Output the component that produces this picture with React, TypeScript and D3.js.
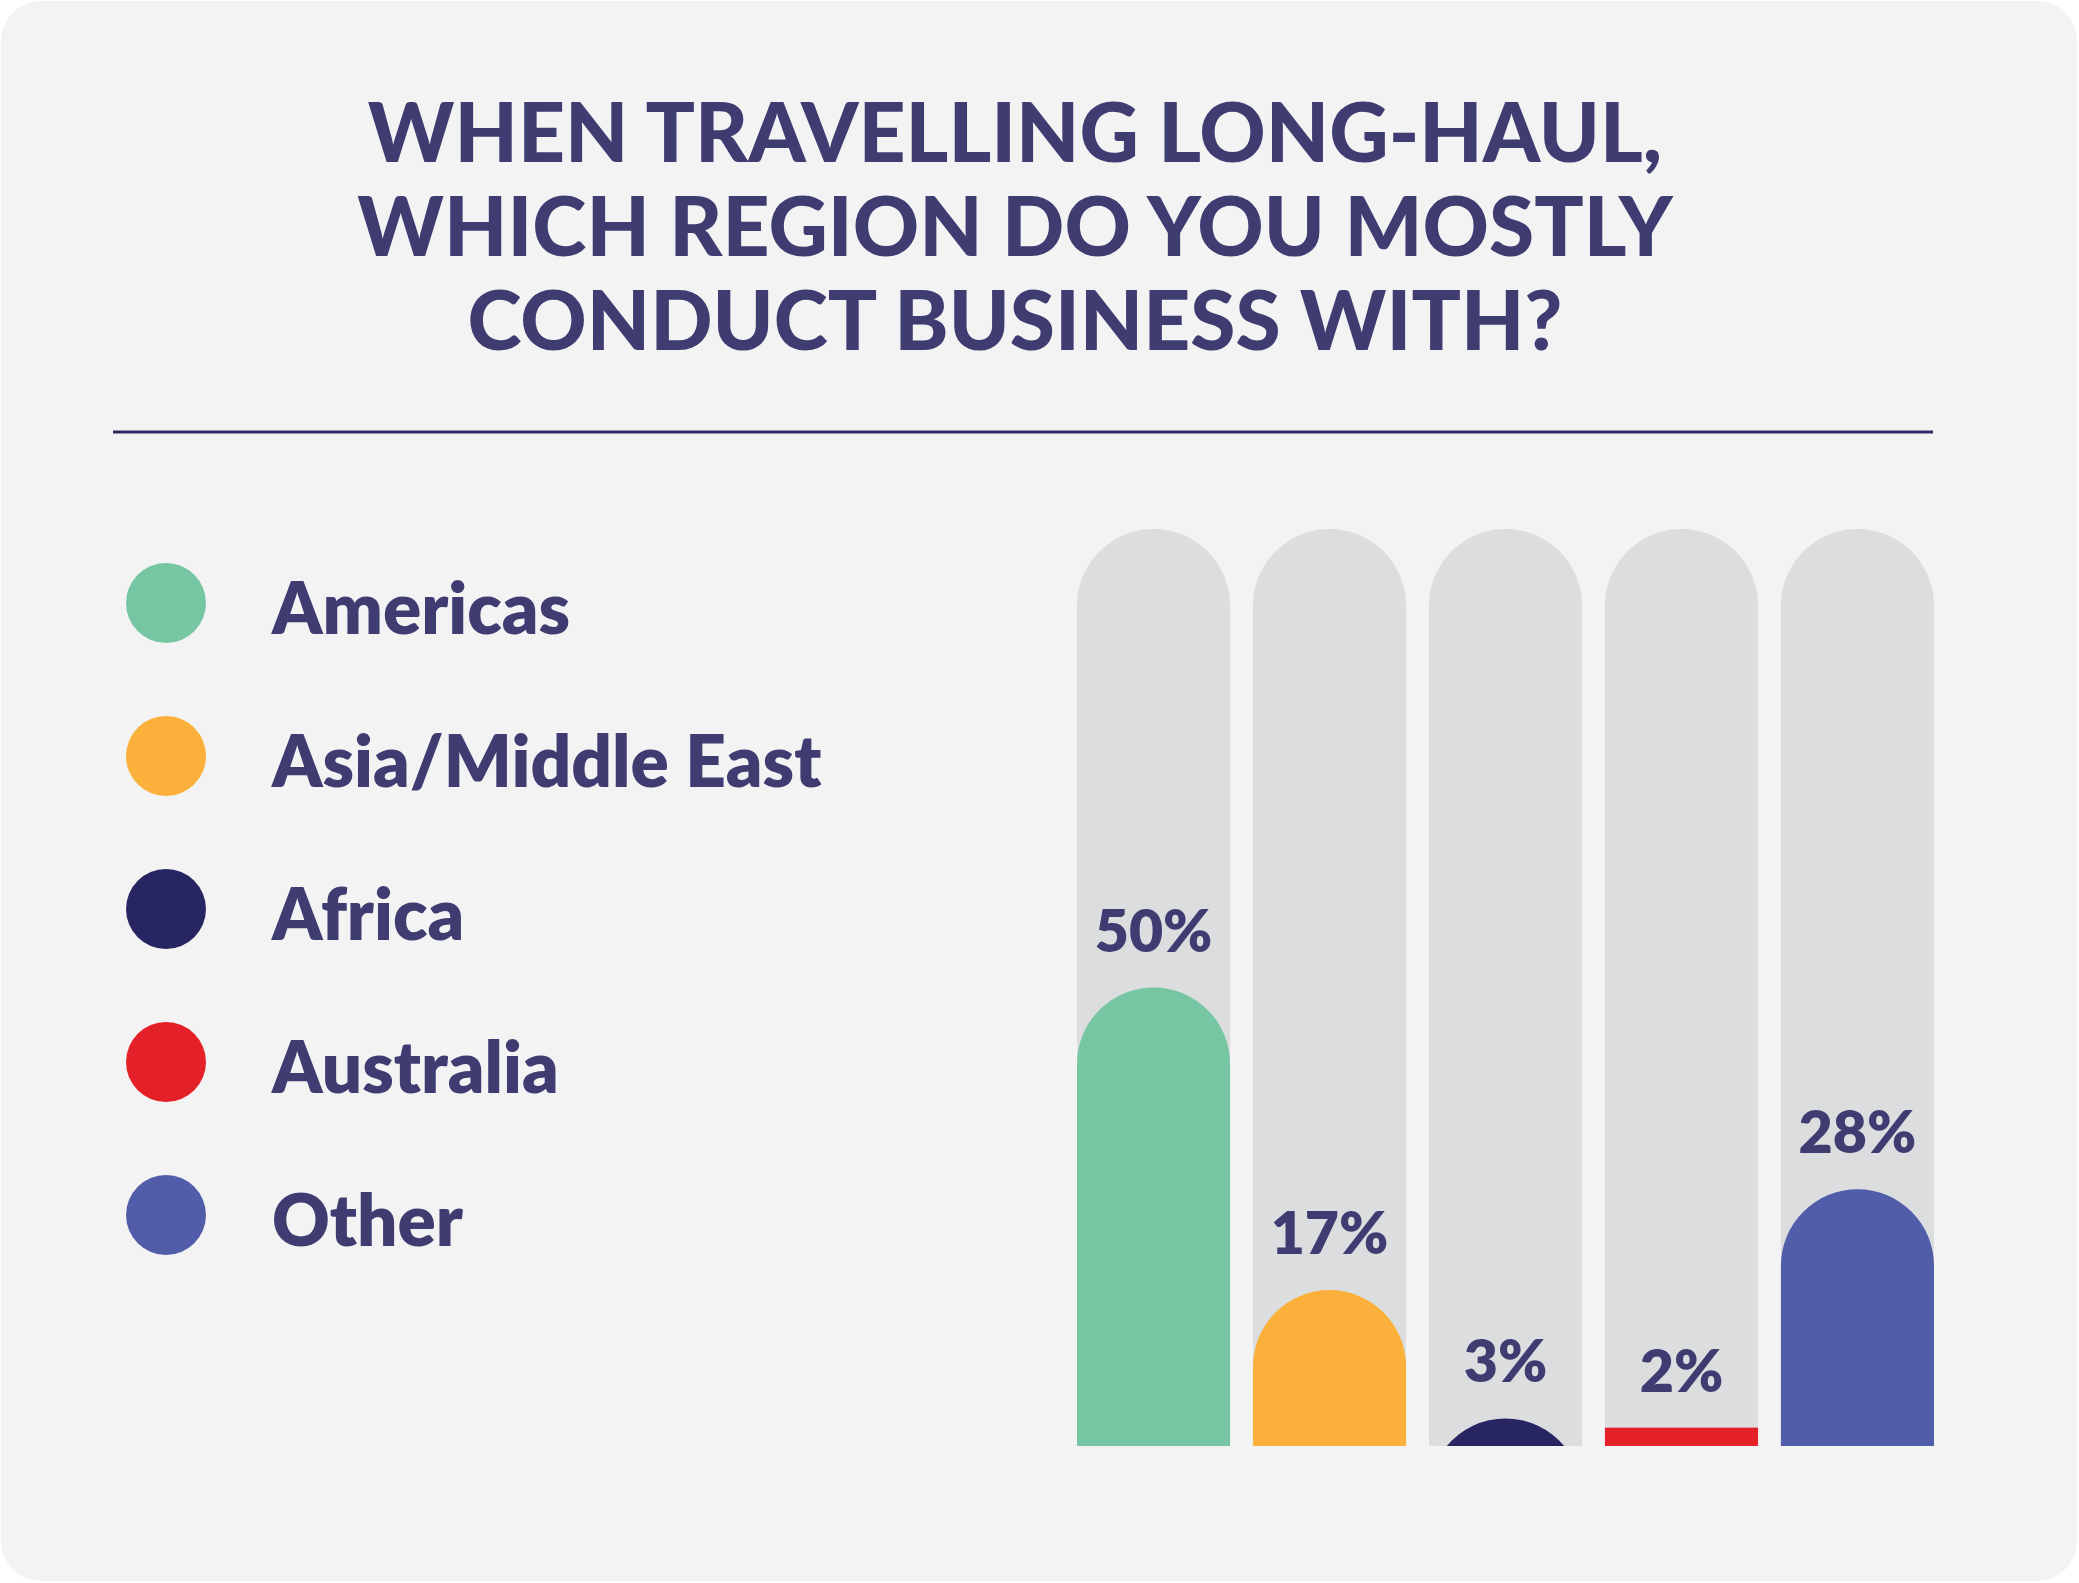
import * as React from 'react';
import * as d3 from 'd3';

const W = 2079;
const H = 1583;

const titleLines = ['WHEN TRAVELLING LONG-HAUL,', 'WHICH REGION DO YOU MOSTLY', 'CONDUCT BUSINESS WITH?'];
const regions = ['Americas', 'Asia/Middle East', 'Africa', 'Australia', 'Other'];
const shares = [50, 17, 3, 2, 28];
const colors = ['#76C6A3', '#FBB03B', '#282563', '#E42128', '#525DAA'];

const INK = '#3F3C72';
const FONT = 'Lato, "Open Sans", sans-serif';

export default function App() {
  React.useEffect(() => {
    document.body.style.margin = '0';
  }, []);

  const x = d3.scaleBand<string>().domain(regions).range([1077, 1934]).paddingInner(0.13).paddingOuter(0);
  const y = d3.scaleLinear().domain([0, 100]).range([1446, 529]);
  const legendY = d3.scalePoint<string>().domain(regions).range([603, 1215]);

  const bw = x.bandwidth();
  const r = bw / 2;

  // rounded-top bar: straight sides up to the cap, then a half circle
  const cappedBar = (x0: number, top: number, bottom: number) => {
    const h = bottom - top;
    const p = d3.path();
    if (h >= r) {
      p.moveTo(x0, bottom);
      p.lineTo(x0, top + r);
      p.arc(x0 + r, top + r, r, Math.PI, 0);
      p.lineTo(x0 + bw, bottom);
      p.closePath();
    } else {
      // only the tip of the cap shows
      const cy = top + r;
      const dy = cy - bottom;
      const half = Math.sqrt(r * r - dy * dy);
      const a = Math.atan2(dy, half);
      p.moveTo(x0 + r - half, bottom);
      p.arc(x0 + r, cy, r, Math.PI + a, 2 * Math.PI - a, false);
      p.closePath();
    }
    return p.toString();
  };

  return (
    <svg width={W} height={H} viewBox={`0 0 ${W} ${H}`} style={{ display: 'block', background: '#fff' }}>
      <rect x={1} y={1} width={W - 3} height={H - 3} rx={40} fill="#F3F3F3" />

      <g fill={INK} fontFamily={FONT} fontWeight={900} fontSize={82} textAnchor="middle">
        {titleLines.map((t, i) => (
          <text key={t} x={1015} y={162 + i * 94}>
            {t}
          </text>
        ))}
      </g>

      <line x1={113} x2={1933} y1={432} y2={432} stroke="#2E2B66" strokeWidth={3} />

      <g fontFamily={FONT} fontWeight={800} fontSize={71} fill={INK}>
        {regions.map((d, i) => (
          <g key={d} transform={`translate(0, ${legendY(d)})`}>
            <circle cx={166} cy={0} r={40} fill={colors[i]} />
            <text x={272} y={31}>
              {d}
            </text>
          </g>
        ))}
      </g>

      <g>
        {regions.map((d) => (
          <path key={d} d={cappedBar(x(d)!, y(100), y(0))} fill="#DCDDDF" />
        ))}
      </g>

      <g>
        {regions.map((d, i) =>
          shares[i] < 3 ? (
            <rect key={d} x={x(d)} y={y(shares[i])} width={bw} height={y(0) - y(shares[i])} fill={colors[i]} />
          ) : (
            <path key={d} d={cappedBar(x(d)!, y(shares[i]), y(0))} fill={colors[i]} />
          )
        )}
      </g>

      <g fontFamily={FONT} fontWeight={800} fontSize={59} fill={INK} textAnchor="middle">
        {regions.map((d, i) => (
          <text key={d} x={x(d)! + bw / 2} y={y(shares[i]) - 36}>
            {shares[i]}%
          </text>
        ))}
      </g>
    </svg>
  );
}
